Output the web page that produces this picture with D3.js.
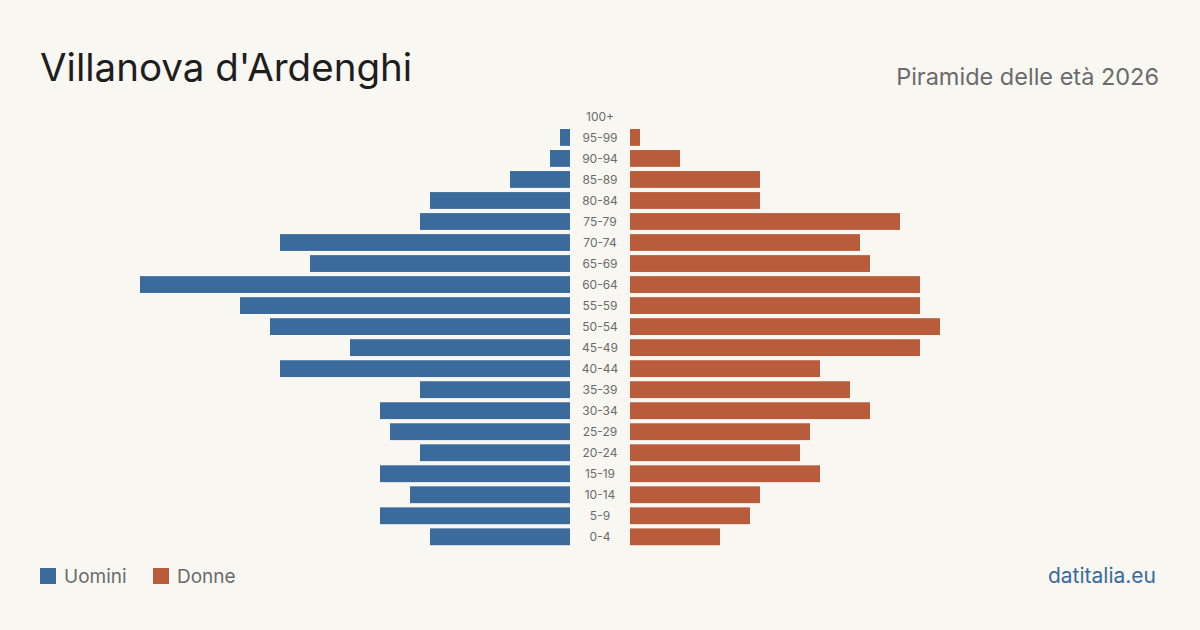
<!DOCTYPE html>
<html><head><meta charset="utf-8">
<script src="https://cdn.jsdelivr.net/npm/d3@7"></script>
<style>body{margin:0;background:#f9f7f2;}svg{display:block;font-family:Inter,"Noto Sans",sans-serif;}</style>
</head><body>
<svg id="c" width="1200" height="630"></svg>
<script>
const ageGroups = ["100+","95-99","90-94","85-89","80-84","75-79","70-74","65-69","60-64","55-59","50-54","45-49","40-44","35-39","30-34","25-29","20-24","15-19","10-14","5-9","0-4"];
const men   = [0,1,2,6,14,15,29,26,43,33,30,22,29,15,19,18,15,19,16,19,14];
const women = [0,1,5,13,13,27,23,24,29,29,31,29,19,22,24,18,17,19,13,12,9];
const legendLabels = ["Uomini","Donne"];
const colors = ["#3b6a9c","#b95c3b"];

const svg = d3.select("#c");
svg.append("rect").attr("width",1200).attr("height",630).attr("fill","#f9f7f2");

const y = d3.scaleBand().domain(ageGroups).range([108,545.2]).paddingInner(0.2).paddingOuter(0);
const xL = d3.scaleLinear().domain([0,43]).range([570,140]);
const xR = d3.scaleLinear().domain([0,43]).range([630,1060]);

svg.append("g").selectAll("rect").data(ageGroups).join("rect")
  .attr("x",(d,i)=>xL(men[i])).attr("width",(d,i)=>xL(0)-xL(men[i]))
  .attr("y",d=>y(d)).attr("height",y.bandwidth()).attr("fill",colors[0]);
svg.append("g").selectAll("rect").data(ageGroups).join("rect")
  .attr("x",xR(0)).attr("width",(d,i)=>xR(women[i])-xR(0))
  .attr("y",d=>y(d)).attr("height",y.bandwidth()).attr("fill",colors[1]);

svg.append("g").selectAll("text").data(ageGroups).join("text")
  .attr("x",600).attr("y",d=>y(d)+y.bandwidth()/2).attr("dy","0.35em")
  .attr("text-anchor","middle").attr("font-size",12).attr("fill","#6b6b6b").text(d=>d);

svg.append("text").attr("x",40).attr("y",81).attr("font-size",38.5).attr("fill","#1e1e1e").text("Villanova d'Ardenghi");
svg.append("text").attr("x",1159).attr("y",85).attr("text-anchor","end").attr("font-size",23.5).attr("fill","#6b6b6b").text("Piramide delle età 2026");

const lx=[40,153];
legendLabels.forEach((l,i)=>{
  svg.append("rect").attr("x",lx[i]).attr("y",568).attr("width",16).attr("height",16).attr("fill",colors[i]);
  svg.append("text").attr("x",lx[i]+24).attr("y",583).attr("font-size",19).attr("fill","#6b6b6b").text(l);
});
svg.append("text").attr("x",1156).attr("y",583).attr("text-anchor","end").attr("font-size",21).attr("fill","#3b6a9c").text("datitalia.eu");
</script>
</body></html>
